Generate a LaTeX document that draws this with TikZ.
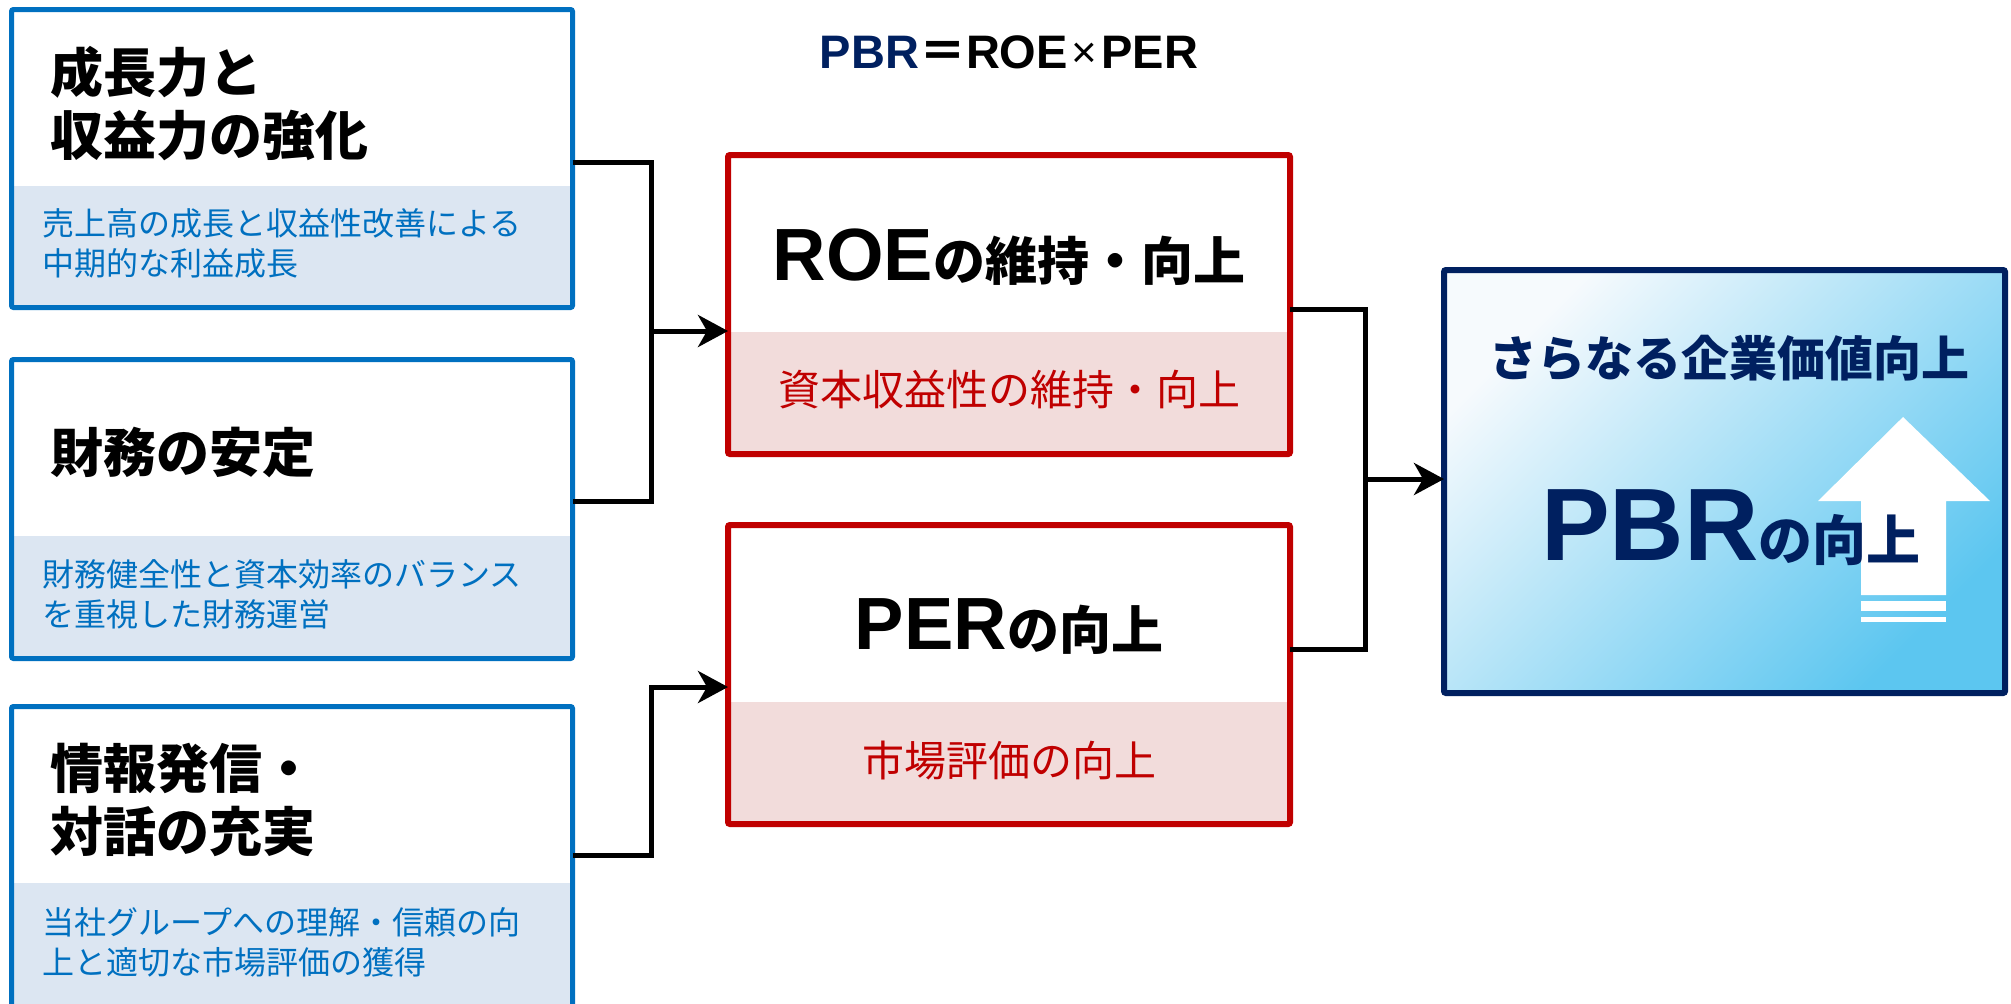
\documentclass[tikz,border=0pt]{standalone}
\usepackage{fontspec}
\setmainfont{Liberation Sans}
\newfontfamily\jp{Noto Sans CJK JP}
\newfontfamily\ar{Liberation Sans}
\usetikzlibrary{arrows.meta}
\definecolor{bluec}{HTML}{0070C0}
\definecolor{bandblue}{HTML}{DCE6F2}
\definecolor{redc}{HTML}{C00000}
\definecolor{bandred}{HTML}{F2DCDB}
\definecolor{navyc}{HTML}{002060}
\definecolor{gradA}{HTML}{F6FAFD}
\definecolor{gradB}{HTML}{E3F2FA}
\definecolor{gradC}{HTML}{5CC6F0}
\newcommand\myfs[2]{\fontsize{#1}{#2}\selectfont}
\begin{document}
\begin{tikzpicture}[x=0.5pt,y=-0.5pt,
  bluebox/.style={draw=bluec, line width=2.5pt, rectangle, inner sep=0pt, outer sep=0pt, rounded corners=1pt, minimum width=280.5pt},
  redbox/.style={draw=redc, line width=3pt, rectangle, inner sep=0pt, outer sep=0pt, rounded corners=1pt, minimum width=281pt, minimum height=149.5pt},
  navybox/.style={draw=navyc, line width=3pt, rectangle, inner sep=0pt, outer sep=0pt, rounded corners=1pt, minimum width=280.5pt, minimum height=211.5pt},
  conn/.style={line width=2.5pt, black, line join=miter},
  arr/.style={conn, -{Stealth[length=15pt, width=16pt, inset=4.5pt]}},
  ttl/.style={anchor=west, align=left, inner sep=0pt, font=\jp\bfseries\myfs{26.5}{31.5}},
  subt/.style={anchor=west, align=left, inner sep=0pt, text=bluec, font=\jp\myfs{16}{20}},
  redsub/.style={inner sep=0pt, text=redc, font=\jp\myfs{21}{25}}
]
\useasboundingbox (0,0) rectangle (2011,1003);
\clip (0,0) rectangle (2011,1003);
\fill[white] (0,0) rectangle (2011,1003);

% formula
\node[inner sep=0pt] (formula) at (1009,52) {{\ar\bfseries\myfs{23.5}{24}\textcolor{navyc}{PBR}}{\jp\bfseries\myfs{23.5}{24}＝}{\ar\bfseries\myfs{23.5}{24}ROE}{\ar\myfs{23.5}{24}\hspace{2pt}\raisebox{0.5pt}{\myfs{22}{24}×}\hspace{2pt}}{\ar\bfseries\myfs{23.5}{24}PER}};

% left boxes: bands
\fill[bandblue] (11.5,186) rectangle (572.5,307.5);
\fill[bandblue] (11.5,536) rectangle (572.5,658.5);
\fill[bandblue] (11.5,883) rectangle (572.5,1012);
\node[bluebox, minimum height=149pt] (b1) at (292,158.5) {};
\node[bluebox, minimum height=149.5pt] (b2) at (292,509) {};
\node[bluebox, minimum height=152.75pt] (b3) at (292,859.25) {};

\node[ttl] (t1) at (50,103.5) {成長力と\\収益力の強化};
\node[subt] (s1) at (42,243) {売上高の成長と収益性改善による\\中期的な利益成長};
\node[ttl] (t2) at (50,453) {財務の安定};
\node[subt] (s2) at (42,594) {財務健全性と資本効率のバランス\\を重視した財務運営};
\node[ttl] (t3) at (50,800) {情報発信・\\対話の充実};
\node[subt] (s3) at (42,942) {当社グループへの理解・信頼の向\\上と適切な市場評価の獲得};

% middle boxes
\fill[bandred] (728,332) rectangle (1290,454);
\fill[bandred] (728,702) rectangle (1290,824);
\node[redbox] (roe) at (1009,304.5) {};
\node[redbox] (per) at (1009,674.5) {};
\node[inner sep=0pt] (roet) at (1009,257) {{\ar\bfseries\myfs{37}{37}ROE}{\jp\bfseries\myfs{26}{26}の維持・向上}};
\node[redsub] (roes) at (1009,390) {資本収益性の維持・向上};
\node[inner sep=0pt] (pert) at (1009,627) {{\ar\bfseries\myfs{37}{37}PER}{\jp\bfseries\myfs{26}{26}の向上}};
\node[redsub] (pers) at (1009,760) {市場評価の向上};

% result box
\node[navybox, top color=gradA, middle color=gradB, bottom color=gradC, shading angle=45] (res) at (1724.5,481.5) {};
\fill[white] (1903,417) -- (1990,501) -- (1946,501) -- (1946,595) -- (1861,595) -- (1861,501) -- (1818,501) -- cycle;
\fill[white] (1861,601) rectangle (1946,611);
\fill[white] (1861,617) rectangle (1946,622);
\node[inner sep=0pt, text=navyc, font=\jp\bfseries\myfs{24}{24}] (rest) at (1729,358) {さらなる企業価値向上};
\node[inner sep=0pt, anchor=base, text=navyc] (pbr) at (1731,560) {{\ar\bfseries\myfs{51.5}{52}PBR}{\jp\bfseries\myfs{27}{27}の向上}};

% connectors
\coordinate (jL1) at (651,162);
\coordinate (jL2) at (651,501);
\coordinate (jLa) at (651,331);
\coordinate (jL3) at (651,855);
\coordinate (jL4) at (651,687);
\coordinate (jR1) at (1365,309);
\coordinate (jR2) at (1365,649);
\coordinate (jRa) at (1365,479);
\draw[conn] (b1.east |- jL1) -- (jL1) -- (jL2) -- (b2.east |- jL2);
\draw[arr] (jLa) -- (roe.west |- jLa);
\draw[arr] (b3.east |- jL3) -- (jL3) -- (jL4) -- (per.west |- jL4);
\draw[conn] (roe.east |- jR1) -- (jR1) -- (jR2) -- (per.east |- jR2);
\draw[arr] (jRa) -- (res.west |- jRa);
\end{tikzpicture}
\end{document}
